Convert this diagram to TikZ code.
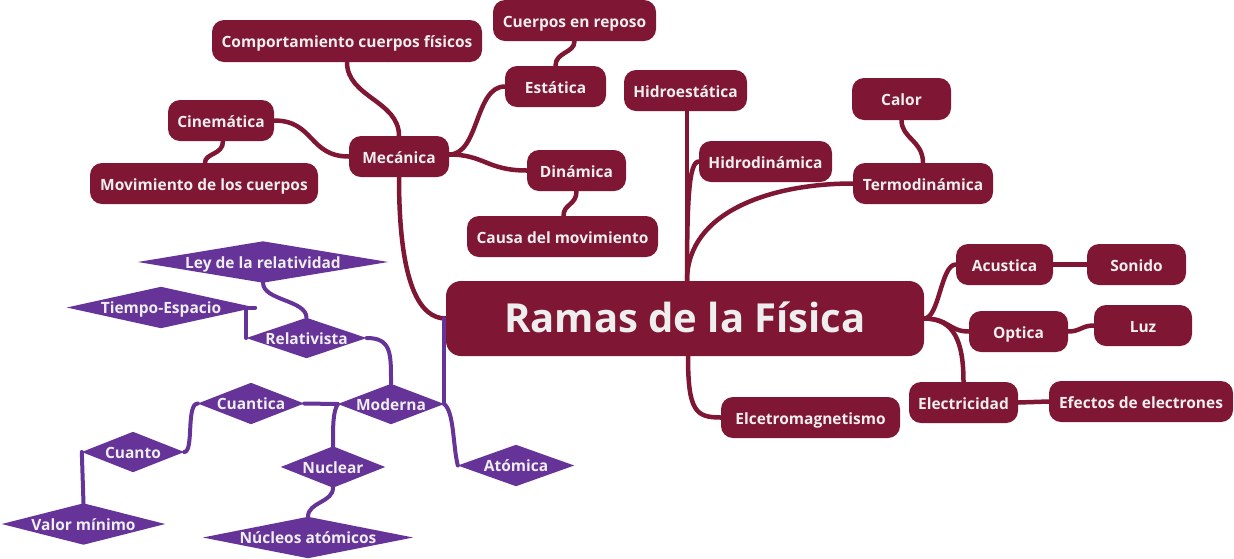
\documentclass[tikz,border=0pt]{standalone}
\usepackage{fontspec}
\setmainfont{Open Sans}
\usetikzlibrary{backgrounds,calc}
\definecolor{maroon}{HTML}{7F1734}
\definecolor{purp}{HTML}{663399}
\definecolor{txt}{HTML}{EEEEEE}
\tikzset{
  box/.style={fill=maroon, rounded corners=12pt, text=txt,
    font=\fontsize{15.5}{18}\selectfont\bfseries, minimum height=41pt, inner sep=0pt,
    text height=16pt, text depth=3pt},
  rh/.style={text=txt, font=\fontsize{15.5}{18}\selectfont\bfseries,
    minimum height=41pt, inner sep=0pt, shape=rectangle,
    text height=15.5pt, text depth=3pt},
  mline/.style={draw=maroon, line width=4.5pt, line cap=round},
  pline/.style={draw=purp, line width=4pt, line cap=round},
}
\newcommand\rhomb[1]{\fill[purp] (#1.west) -- (#1.north) -- (#1.east) -- (#1.south) -- cycle;}
\begin{document}
\begin{tikzpicture}[x=1pt,y=-1pt]
\useasboundingbox (0,0) rectangle (1234,558);
% central
\node[box, rounded corners=15pt, minimum width=478pt, minimum height=75pt,
  font=\fontsize{40}{44}\selectfont\bfseries, text height=28pt, text depth=0pt] (ctr) at (685,318.5) {Ramas de la Física};
% maroon boxes
\node[box, minimum width=100pt] (mec) at (399,156.5) {Mecánica};
\node[box, minimum width=270pt, minimum height=42pt] (comp) at (347,41) {Comportamiento cuerpos físicos};
\node[box, minimum width=106pt] (cine) at (221,120.5) {Cinemática};
\node[box, minimum width=228pt] (mov) at (204,183.5) {Movimiento de los cuerpos};
\node[box, minimum width=101pt] (est) at (555.5,86.5) {Estática};
\node[box, minimum width=163pt] (cue) at (574.5,20.5) {Cuerpos en reposo};
\node[box, minimum width=99pt] (din) at (576.5,170.5) {Dinámica};
\node[box, minimum width=191pt] (cau) at (562.5,236.5) {Causa del movimiento};
\node[box, minimum width=123pt] (hest) at (685.5,90.5) {Hidroestática};
\node[box, minimum width=133pt] (hdin) at (765.5,161.5) {Hidrodinámica};
\node[box, minimum width=99pt, minimum height=42pt] (cal) at (901.5,99) {Calor};
\node[box, minimum width=140pt] (ter) at (923,183.5) {Termodinámica};
\node[box, minimum width=97pt] (acu) at (1004.5,264.5) {Acustica};
\node[box, minimum width=99pt] (son) at (1136.5,264.5) {Sonido};
\node[box, minimum width=99pt] (opt) at (1018.5,331.5) {Optica};
\node[box, minimum width=98pt] (luz) at (1143,325.5) {Luz};
\node[box, minimum width=109pt] (ele) at (963.5,402.5) {Electricidad};
\node[box, minimum width=184pt] (efe) at (1141,401.5) {Efectos de electrones};
\node[box, minimum width=179pt] (elc) at (810.5,417.5) {Elcetromagnetismo};
% rhombus nodes (text)
\node[rh, minimum width=250pt] (ley) at (263,262) {Ley de la relatividad};
\node[rh, minimum width=188pt] (tie) at (161,307.5) {Tiempo-Espacio};
\node[rh, minimum width=120pt, minimum height=40pt] (rel) at (306.5,338) {Relativista};
\node[rh, minimum width=106pt, minimum height=40pt] (mod) at (391,404) {Moderna};
\node[rh, minimum width=106pt] (cua) at (251,403.5) {Cuantica};
\node[rh, minimum width=102pt, minimum height=40pt] (cuo) at (133,452) {Cuanto};
\node[rh, minimum width=163pt] (val) at (83.5,524) {Valor mínimo};
\node[rh, minimum width=104pt] (nuc) at (333,467) {Nuclear};
\node[rh, minimum width=210pt] (nus) at (308,537.5) {Núcleos atómicos};
\node[rh, minimum width=116pt] (ato) at (516,465.5) {Atómica};
\begin{scope}[on background layer]
% maroon connectors
\draw[mline] (mec.south) .. controls +(0,110) and +(-25,0) .. (ctr.west);
\draw[mline] (mec.north) .. controls +(0,-35) and +(0,35) .. (comp.south);
\draw[mline] (mec.west) .. controls +(-40,0) and +(40,0) .. (cine.east);
\draw[mline] ($(cine.south)+(2,0)$) .. controls +(0,14) and +(0,-10) .. ($(mov.north)+(1,0)$);
\draw[mline] ($(mec.east)+(0,-2)$) .. controls +(30,0) and +(-30,0) .. (est.west);
\draw[mline] ($(mec.east)+(0,-2)$) .. controls +(35,0) and +(-40,0) .. (din.west);
\draw[mline] (est.north) .. controls +(0,-14) and +(0,12) .. (cue.south);
\draw[mline] (din.south) .. controls +(0,14) and +(0,-12) .. ($(cau.north)+(1,0)$);
\draw[mline] ($(ctr.north)+(2,0)$) -- ($(hest.south)+(1.5,0)$);
\draw[mline] ($(ctr.north)+(2,0)$) .. controls +(0,-80) and +(-10,0) .. (hdin.west);
\draw[mline] ($(ctr.north)+(2,0)$) .. controls +(0,-70) and +(-80,0) .. (ter.west);
\draw[mline] (ter.north) .. controls +(0,-22) and +(0,18) .. (cal.south);
\draw[mline] (ctr.east) .. controls +(15,0) and +(-15,0) .. (acu.west);
\draw[mline] (ctr.east) .. controls +(25,0) and +(-20,0) .. (opt.west);
\draw[mline] (ctr.east) .. controls +(30,0) and +(0,-40) .. (ele.north);
\draw[mline] (acu.east) -- (son.west);
\draw[mline] (opt.east) .. controls +(12,0) and +(-12,0) .. (luz.west);
\draw[mline] (ele.east) -- (efe.west);
\draw[mline] ($(ctr.south)+(3,0)$) .. controls +(0,55) and +(-25,0) .. (elc.west);
% purple connectors
\draw[pline] (mod.east |- ctr.west) -- (mod.east);
\draw[pline] (mod.east) .. controls +(10,8) and +(-5,-20) .. (ato.west);
\draw[pline] (rel.east) .. controls +(25,0) and +(0,-30) .. (mod.north);
\draw[pline] (rel.north) .. controls +(0,-18) and +(0,18) .. (ley.south);
\draw[pline] (tie.east) -- (tie.east -| rel.west) -- (rel.west);
\draw[pline] (mod.west) -- (cua.east);
\draw[pline] (mod.west) .. controls +(-5,8) and +(0,-20) .. (nuc.north);
\draw[pline] (cua.west) .. controls +(-12,0) and +(10,0) .. (cuo.east);
\draw[pline] (cuo.west) -- (val.north);
\draw[pline] (nuc.south) .. controls +(0,15) and +(0,-15) .. (nus.north);
% rhombus fills
\rhomb{ley}\rhomb{tie}\rhomb{rel}\rhomb{mod}\rhomb{cua}
\rhomb{cuo}\rhomb{val}\rhomb{nuc}\rhomb{nus}\rhomb{ato}
\end{scope}
\end{tikzpicture}
\end{document}
